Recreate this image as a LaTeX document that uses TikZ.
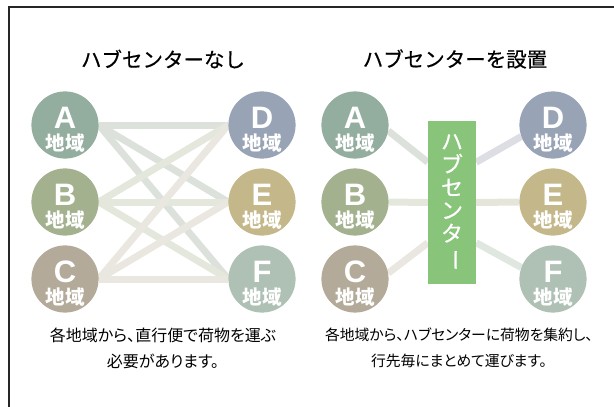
\documentclass[tikz,border=0pt]{standalone}
\usepackage{fontspec}
\setmainfont{Liberation Sans}
\newfontfamily\jp{Noto Sans CJK JP}
\newfontfamily\jpm[FakeBold=0.5]{Noto Sans CJK JP}
\newfontfamily\jpp[RawFeature=+palt]{Noto Sans CJK JP}
\usetikzlibrary{backgrounds}

\definecolor{colA}{HTML}{93AD9E}
\definecolor{colB}{HTML}{A3B18F}
\definecolor{colC}{HTML}{B4AA9A}
\definecolor{colD}{HTML}{98A3B5}
\definecolor{colE}{HTML}{C4B88A}
\definecolor{colF}{HTML}{AFC1B4}
\definecolor{colHub}{HTML}{88C47A}
\definecolor{lineA}{HTML}{DCE2DB}
\definecolor{lineB}{HTML}{E4E7DC}
\definecolor{lineC}{HTML}{EAE7E0}
\definecolor{lineD}{HTML}{DCDEE4}
\definecolor{lineE}{HTML}{E6E5D9}
\definecolor{lineF}{HTML}{E0E6E0}

\newcommand{\area}[1]{\rule{0pt}{31pt}#1\\[-1pt]{\jp\bfseries\fontsize{19.5}{20}\selectfont 地域}}

\def\Lx{65}
\def\Rx{262}
\def\HLx{355}
\def\HRx{553}
\def\Ay{125}
\def\By{202}
\def\Cy{279}

\begin{document}
\begin{tikzpicture}[x=1pt, y=-1pt,
    region/.style={circle, minimum size=64pt, inner sep=0pt, text=white, align=center,
      font=\bfseries\fontsize{31}{23}\selectfont},
    route/.style={line width=7pt},
    title/.style={font=\jpm\fontsize{20.5}{24}\selectfont},
    note/.style={align=center, font=\jpp\fontsize{16}{26}\selectfont}]
    \useasboundingbox (0,0) rectangle (614,407);
    \draw[line width=1.4pt, black!85] (614,7) -- (9,7) -- (9,407);

    \node[title] (t1) at (163,59) {ハブセンターなし};
    \node[title] (t2) at (455,59) {ハブセンターを設置};

    % without hub
    \node[region, fill=colA] (A) at (\Lx,\Ay) {\area{A}};
    \node[region, fill=colB] (B) at (\Lx,\By) {\area{B}};
    \node[region, fill=colC] (C) at (\Lx,\Cy) {\area{C}};
    \node[region, fill=colD] (D) at (\Rx,\Ay) {\area{D}};
    \node[region, fill=colE] (E) at (\Rx,\By) {\area{E}};
    \node[region, fill=colF] (F) at (\Rx,\Cy) {\area{F}};

    % with hub
    \node[region, fill=colA] (hA) at (\HLx,\Ay) {\area{A}};
    \node[region, fill=colB] (hB) at (\HLx,\By) {\area{B}};
    \node[region, fill=colC] (hC) at (\HLx,\Cy) {\area{C}};
    \node[region, fill=colD] (hD) at (\HRx,\Ay) {\area{D}};
    \node[region, fill=colE] (hE) at (\HRx,\By) {\area{E}};
    \node[region, fill=colF] (hF) at (\HRx,\Cy) {\area{F}};
    \node[fill=colHub, minimum width=48pt, minimum height=163pt, inner sep=0pt,
      text=white, align=center, font=\jpm\fontsize{22}{23}\selectfont]
      (hub) at (452,202.5) {ハ\\ブ\\セ\\ン\\タ\\\rotatebox[origin=c]{-90}{ー}};

    \begin{scope}[on background layer]
      \foreach \s/\c in {A/lineA, B/lineB, C/lineC}
        \foreach \t in {D,E,F}
          \draw[route, \c] (\s.east) -- (\t.west);
      \draw[route, lineA] (hA.-10) -- (hub.121);
      \draw[route, lineB] (hB.east) -- (hub.west);
      \draw[route, lineC] (hC.10) -- (hub.239);
      \draw[route, lineD] (hD.200) -- (hub.59);
      \draw[route, lineE] (hE.west) -- (hub.east);
      \draw[route, lineF] (hF.160) -- (hub.-59);
    \end{scope}

    \node[note] (n1) at (163,348) {各地域から、直行便で荷物を運ぶ\\必要があります。};
    \node[note, font=\jpp\fontsize{14.8}{26}\selectfont] (n2) at (459,348)
      {各地域から、ハブセンターに荷物を集約し、\\行先毎にまとめて運びます。};
\end{tikzpicture}
\end{document}
